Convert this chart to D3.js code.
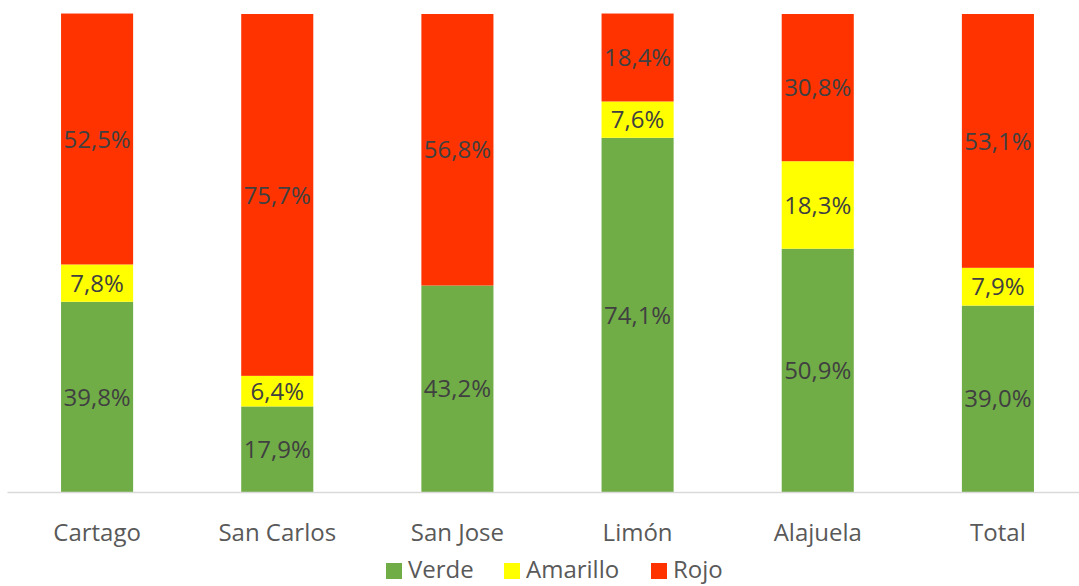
<!DOCTYPE html>
<html><head><meta charset="utf-8">
<script src="https://cdn.jsdelivr.net/npm/d3@7"></script>
<style>body{margin:0;background:#fff}svg{display:block}text{font-family:"Open Sans","Noto Sans",sans-serif}</style>
</head><body><svg id="c" width="1079" height="586"></svg>
<script>
const categories = ["Cartago","San Carlos","San Jose","Limón","Alajuela","Total"];
const verde =    [39.8, 17.9, 43.2, 74.1, 50.9, 39.0];
const amarillo = [7.8, 6.4, 0, 7.6, 18.3, 7.9];
const rojo =     [52.5, 75.7, 56.8, 18.4, 30.8, 53.1];
const seriesNames = ["Verde","Amarillo","Rojo"];
const colors = ["#70ad47","#ffff00","#ff3300"];

(function(){
const svg = d3.select("#c");
const plotTop = 14, plotBottom = 492;
const x = d3.scaleBand().domain(categories).range([7, 1088]).paddingInner(0.6).paddingOuter(0.3);
const y = d3.scaleLinear().domain([0, 100]).range([plotBottom, plotTop]);

const rows = categories.map((c,i)=>({cat:c, Verde:verde[i], Amarillo:amarillo[i], Rojo:rojo[i]}));
const stack = d3.stack().keys(seriesNames)(rows);

const g = svg.append("g");
stack.forEach((s, si) => {
  g.selectAll(null).data(s).enter().append("rect")
    .attr("x", d => x(d.data.cat))
    .attr("width", x.bandwidth())
    .attr("y", d => y(d[1]))
    .attr("height", d => y(d[0]) - y(d[1]))
    .attr("fill", colors[si]);
  g.selectAll(null).data(s.filter(d => d[1]-d[0] > 0)).enter().append("text")
    .attr("x", d => x(d.data.cat) + x.bandwidth()/2)
    .attr("y", d => (y(d[0]) + y(d[1]))/2)
    .attr("dy", "0.36em")
    .attr("text-anchor", "middle")
    .attr("font-size", 24)
    .attr("fill", "#404040")
    .text(d => (d[1]-d[0]).toFixed(1).replace(".", ",") + "%");
});

const xAxis = d3.axisBottom(x).tickSize(0).tickPadding(0);
const ax = svg.append("g").attr("transform", `translate(0,${plotBottom})`).call(xAxis);
ax.select(".domain").attr("stroke", "#d9d9d9").attr("stroke-width", 1.5);
ax.selectAll(".tick text").attr("font-size", 24).attr("fill", "#595959").attr("dy", 0).attr("y", 49).attr("font-family", null);

const legendX = [386, 504, 651];
const lg = svg.append("g");
seriesNames.forEach((n, i) => {
  lg.append("rect").attr("x", legendX[i]).attr("y", 563).attr("width", 16).attr("height", 16).attr("fill", colors[i]);
  lg.append("text").attr("x", legendX[i] + 22).attr("y", 578).attr("font-size", 24).attr("fill", "#595959").text(n);
});
})();
</script></body></html>
